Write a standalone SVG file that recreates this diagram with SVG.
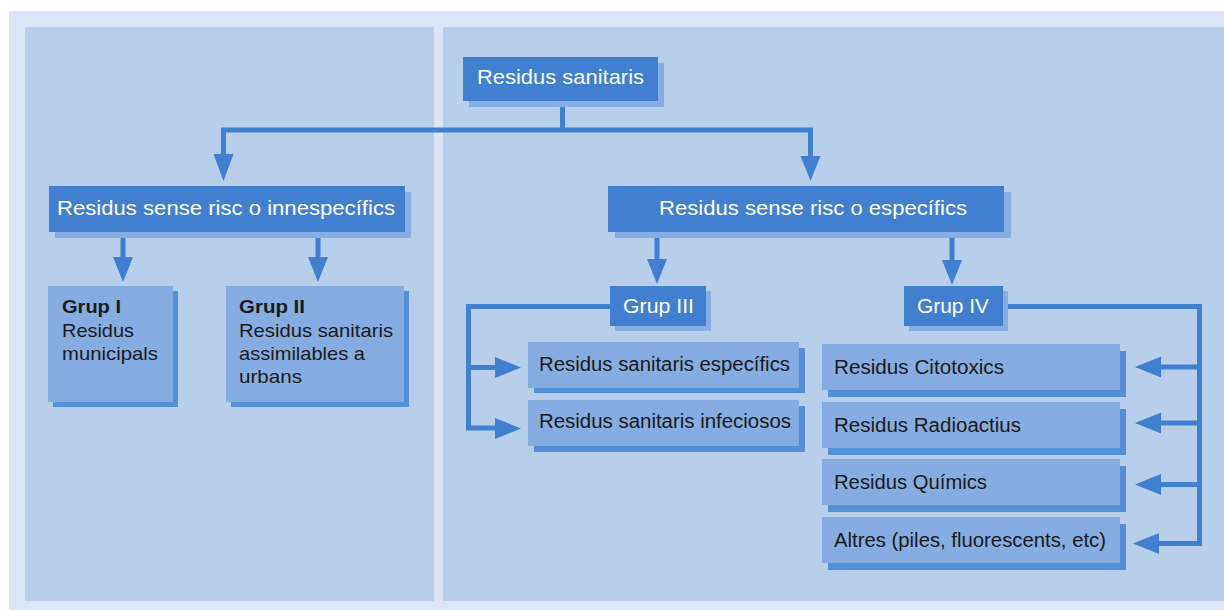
<svg xmlns="http://www.w3.org/2000/svg" width="1224" height="610" viewBox="0 0 1224 610">
<style>
.main{fill:#4180d0}
.mshadow{fill:#87aee2}
.box{fill:#86ade2}
.bshadow{fill:#558fd8}
.wt{font-family:"Liberation Sans",Arial,sans-serif;font-size:21px;fill:#ffffff}
.bt{font-family:"Liberation Sans",Arial,sans-serif;font-size:20px;fill:#1a1a1a}
.gt{font-family:"Liberation Sans",Arial,sans-serif;font-size:19px;fill:#1a1a1a}
.gb{font-weight:bold}
.ln{fill:none;stroke:#4180d0;stroke-width:5;stroke-linejoin:miter}
.ah{fill:#4180d0}
</style>
<rect x="9" y="11" width="1215" height="599" fill="#dae6f6"/>
<rect x="25" y="27" width="409" height="574" fill="#b8cfec"/>
<rect x="443" y="27" width="781" height="574" fill="#b8cfec"/>

<g id="connectors">
<path class="ln" d="M562.5,101 V130 M221,130 H813 M223.5,128 V157 M810.5,128 V158"/>
<polygon class="ah" points="213.5,154 233.5,154 223.5,181"/>
<polygon class="ah" points="800.5,156 820.5,156 810.5,181"/>
<path class="ln" d="M123,232 V259 M318,232 V259"/>
<polygon class="ah" points="113,257 133,257 123,282"/>
<polygon class="ah" points="308,257 328,257 318,282"/>
<path class="ln" d="M657,232 V261 M952,232 V261"/>
<polygon class="ah" points="647,259 667,259 657,284"/>
<polygon class="ah" points="942,260 962,260 952,285"/>
<path class="ln" d="M610,306.5 H468.5 V428 H497 M468.5,367.5 H497"/>
<polygon class="ah" points="495,357 495,378 521,367.5"/>
<polygon class="ah" points="495,418 495,439 521,428.5"/>
<path class="ln" d="M1003,306.5 H1199.5 V543.5 H1159 M1199.5,367 H1159 M1199.5,423 H1159 M1199.5,484.5 H1159"/>
<polygon class="ah" points="1161,356.5 1161,377.5 1135,367"/>
<polygon class="ah" points="1161,412.5 1161,433.5 1135,423"/>
<polygon class="ah" points="1161,474 1161,495 1135,484.5"/>
<polygon class="ah" points="1159,533 1159,554 1133,543.5"/>
</g>

<g id="n-residus-sanitaris">
<rect class="mshadow" x="469" y="63" width="195" height="44"/>
<rect class="main" x="463" y="57" width="195" height="44"/>
<text class="wt" x="477" y="84" textLength="167" lengthAdjust="spacingAndGlyphs">Residus sanitaris</text>
</g>

<g id="n-innespecifics">
<rect class="mshadow" x="55" y="192" width="356" height="46"/>
<rect class="main" x="49" y="186" width="356" height="46"/>
<text class="wt" x="57" y="215" textLength="338" lengthAdjust="spacingAndGlyphs">Residus sense risc o innespecífics</text>
</g>

<g id="n-especifics">
<rect class="mshadow" x="615" y="192" width="396" height="46"/>
<rect class="main" x="608" y="186" width="396" height="46"/>
<text class="wt" x="659" y="215" textLength="308" lengthAdjust="spacingAndGlyphs">Residus sense risc o específics</text>
</g>

<g id="n-grup1">
<rect class="bshadow" x="53" y="291" width="125" height="116"/>
<rect class="box" x="48" y="286" width="125" height="116"/>
<text class="gt gb" x="62" y="313" textLength="59" lengthAdjust="spacingAndGlyphs">Grup I</text>
<text class="gt" x="62" y="337" textLength="72" lengthAdjust="spacingAndGlyphs">Residus</text>
<text class="gt" x="62" y="360" textLength="96" lengthAdjust="spacingAndGlyphs">municipals</text>
</g>

<g id="n-grup2">
<rect class="bshadow" x="231" y="291" width="178" height="116"/>
<rect class="box" x="226" y="286" width="178" height="116"/>
<text class="gt gb" x="239" y="313" textLength="66" lengthAdjust="spacingAndGlyphs">Grup II</text>
<text class="gt" x="239" y="337" textLength="154" lengthAdjust="spacingAndGlyphs">Residus sanitaris</text>
<text class="gt" x="239" y="360" textLength="126" lengthAdjust="spacingAndGlyphs">assimilables a</text>
<text class="gt" x="239" y="383" textLength="63" lengthAdjust="spacingAndGlyphs">urbans</text>
</g>

<g id="n-grup3">
<rect class="mshadow" x="615" y="291" width="96" height="40"/>
<rect class="main" x="610" y="286" width="96" height="40"/>
<text class="wt" x="623" y="313" textLength="71" lengthAdjust="spacingAndGlyphs">Grup III</text>
</g>

<g id="n-grup4">
<rect class="mshadow" x="909" y="291" width="99" height="40"/>
<rect class="main" x="904" y="286" width="99" height="40"/>
<text class="wt" x="917" y="313" textLength="72" lengthAdjust="spacingAndGlyphs">Grup IV</text>
</g>

<g id="n-sanitaris-especifics">
<rect class="bshadow" x="534" y="348" width="271" height="45"/>
<rect class="box" x="528" y="342" width="271" height="46"/>
<text class="bt" x="539" y="371" textLength="251" lengthAdjust="spacingAndGlyphs">Residus sanitaris específics</text>
</g>

<g id="n-sanitaris-infeciosos">
<rect class="bshadow" x="534" y="406" width="271" height="46"/>
<rect class="box" x="528" y="400" width="271" height="46"/>
<text class="bt" x="539" y="428" textLength="252" lengthAdjust="spacingAndGlyphs">Residus sanitaris infeciosos</text>
</g>

<g id="n-citotoxics">
<rect class="bshadow" x="828" y="351" width="298" height="46"/>
<rect class="box" x="822" y="344" width="298" height="46"/>
<text class="bt" x="834" y="374" textLength="170" lengthAdjust="spacingAndGlyphs">Residus Citotoxics</text>
</g>

<g id="n-radioactius">
<rect class="bshadow" x="828" y="409" width="298" height="46"/>
<rect class="box" x="822" y="402" width="298" height="46"/>
<text class="bt" x="834" y="432" textLength="187" lengthAdjust="spacingAndGlyphs">Residus Radioactius</text>
</g>

<g id="n-quimics">
<rect class="bshadow" x="828" y="466" width="298" height="46"/>
<rect class="box" x="822" y="459" width="298" height="46"/>
<text class="bt" x="834" y="489" textLength="153" lengthAdjust="spacingAndGlyphs">Residus Químics</text>
</g>

<g id="n-altres">
<rect class="bshadow" x="828" y="524" width="298" height="46"/>
<rect class="box" x="822" y="517" width="298" height="46"/>
<text class="bt" x="834" y="547" textLength="272" lengthAdjust="spacingAndGlyphs">Altres (piles, fluorescents, etc)</text>
</g>
</svg>
